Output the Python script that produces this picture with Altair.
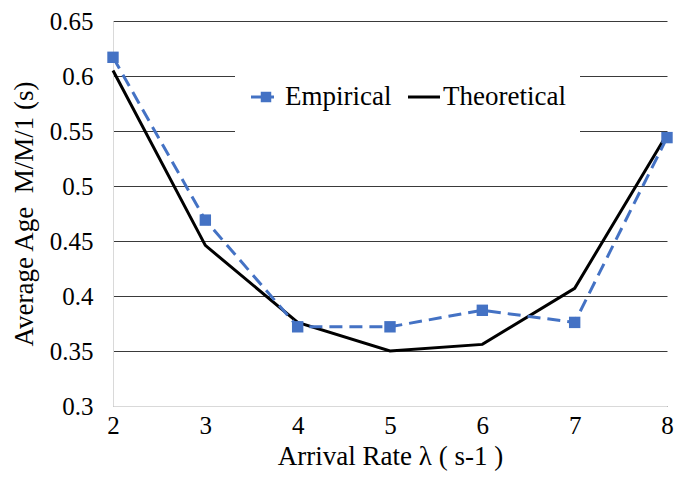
import altair as alt
import pandas as pd

rates = [2, 3, 4, 5, 6, 7, 8]
empirical = [0.617, 0.469, 0.372, 0.372, 0.387, 0.376, 0.544]
theoretical = [0.605, 0.446, 0.376, 0.350, 0.356, 0.407, 0.547]
y_ticks = [0.3, 0.35, 0.4, 0.45, 0.5, 0.55, 0.6, 0.65]
x_ticks = [2, 3, 4, 5, 6, 7, 8]

emp_df = pd.DataFrame({"rate": rates, "age": empirical})
the_df = pd.DataFrame({"rate": rates, "age": theoretical})

FONT = "Liberation Serif"
BLUE = "#4472C4"
TICK_FS = 25
TITLE_FS = 27
LEG_FS = 27

x_enc = alt.X("rate:Q", scale=alt.Scale(domain=[2, 8], nice=False, zero=False),
              axis=alt.Axis(values=x_ticks, title="Arrival Rate λ ( s-1 )", grid=False,
                            ticks=False, labelPadding=7, titlePadding=5, labelFlush=False,
                            labelFont=FONT, titleFont=FONT, labelFontSize=TICK_FS, titleFontSize=TITLE_FS,
                            domainColor="#D9D9D9", format="d"))
y_enc = alt.Y("age:Q", scale=alt.Scale(domain=[0.3, 0.65], nice=False, zero=False),
              axis=alt.Axis(values=y_ticks, title="Average Age\u00a0 M/M/1 (s)", grid=True,
                            gridColor="#3a3a3a", gridWidth=1, ticks=False, labelFlush=False,
                            labelFont=FONT, titleFont=FONT, labelFontSize=TICK_FS, titleFontSize=TITLE_FS,
                            labelPadding=20, titlePadding=11, domainColor="#D9D9D9",
                            labelExpr="datum.value == 0.3 ? '0.3' : datum.value == 0.4 ? '0.4' : datum.value == 0.5 ? '0.5' : datum.value == 0.6 ? '0.6' : format(datum.value, '.2f')"))

theo_line = alt.Chart(the_df).mark_line(color="black", strokeWidth=3).encode(x=x_enc, y=y_enc)
emp_line = alt.Chart(emp_df).mark_line(color=BLUE, strokeWidth=3, strokeDash=[13, 7]).encode(x="rate:Q", y="age:Q")
emp_pts = alt.Chart(emp_df).mark_point(shape="square", filled=True, color=BLUE, size=130, opacity=1).encode(x="rate:Q", y="age:Q")

# legend box (manual)
legend_bg = alt.Chart(emp_df.head(1)).mark_rect(fill="white").encode(
    x=alt.value(122), x2=alt.value(467), y=alt.value(43), y2=alt.value(115))
leg_emp_line = alt.Chart(emp_df.head(1)).mark_rule(color=BLUE, strokeWidth=3).encode(
    x=alt.value(138), x2=alt.value(161), y=alt.value(76))
leg_emp_sq = alt.Chart(emp_df.head(1)).mark_point(shape="square", filled=True, color=BLUE, size=110, opacity=1).encode(
    x=alt.value(153), y=alt.value(76))
leg_emp_txt = alt.Chart(emp_df.head(1)).mark_text(text="Empirical", font=FONT, fontSize=LEG_FS, align="left", baseline="middle", color="black").encode(
    x=alt.value(172), y=alt.value(76))
leg_the_line = alt.Chart(emp_df.head(1)).mark_rule(color="black", strokeWidth=3).encode(
    x=alt.value(295), x2=alt.value(327), y=alt.value(76))
leg_the_txt = alt.Chart(emp_df.head(1)).mark_text(text="Theoretical", font=FONT, fontSize=LEG_FS, align="left", baseline="middle", color="black").encode(
    x=alt.value(330), y=alt.value(76))

chart = alt.layer(
    theo_line, emp_line, emp_pts,
    legend_bg, leg_emp_line, leg_emp_sq, leg_emp_txt, leg_the_line, leg_the_txt
).properties(
    width=554, height=385,
    autosize=alt.AutoSizeParams(type="none"),
    padding={"left": 105, "top": 13, "right": 12, "bottom": 68},
).configure(font=FONT).configure_view(stroke=None).configure_axis(
    labelColor="black", titleColor="black", titleFontWeight="normal"
)

chart.save("out.html", embed_options={"renderer": "svg", "actions": False})
